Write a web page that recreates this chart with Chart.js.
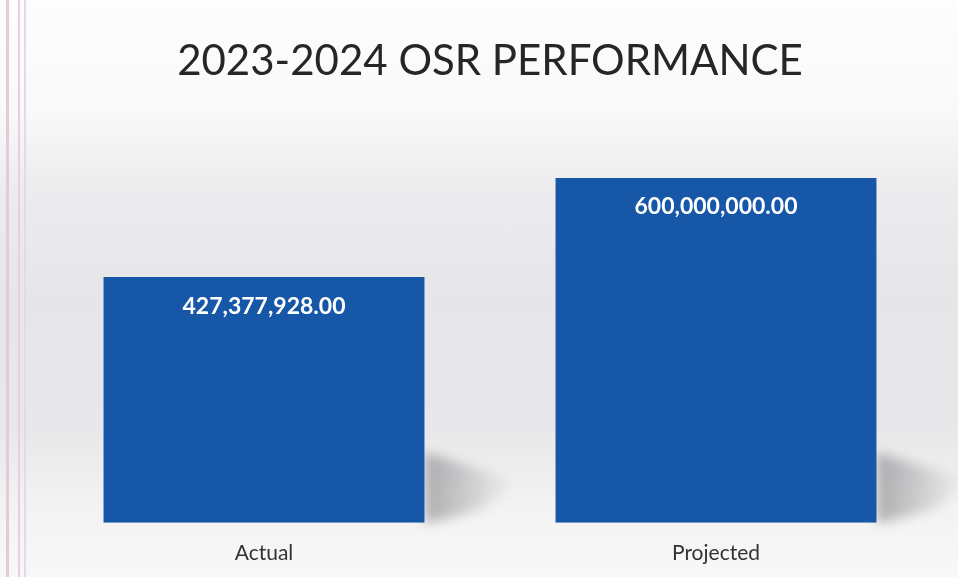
<!DOCTYPE html>
<html>
<head>
<meta charset="utf-8">
<script src="https://cdn.jsdelivr.net/npm/chart.js@4/dist/chart.umd.min.js"></script>
<style>
  html, body { margin: 0; padding: 0; }
  body {
    width: 958px; height: 577px; overflow: hidden; position: relative;
    background: linear-gradient(to bottom, #fdfdfe 0px, #f9f9fa 110px, #ececee 190px, #e6e6e8 300px, #e8e8ea 430px, #f3f3f4 510px, #f8f8f9 577px);
  }
  #edge {
    position: absolute; left: 0; top: 0; width: 30px; height: 577px;
    background:
      linear-gradient(to right, transparent 6px, #e3cbdc 6px, #e3cbdc 9px, transparent 9px,
        transparent 18px, #e6d0e0 18px, #e6d0e0 20px, transparent 20px,
        transparent 24px, #ead6e4 24px, #ead6e4 26px, transparent 26px);
  }
  canvas { position: absolute; left: 0; top: 0; }
</style>
</head>
<body>
<div id="edge"></div>
<canvas id="chart" width="958" height="577"></canvas>
<script>
(function () {
  var categories = ['Actual', 'Projected'];
  var osrValues = [427377928.00, 600000000.00];
  var chartTitle = '2023-2024 OSR PERFORMANCE';

  function fmt(v) {
    return v.toLocaleString('en-US', { minimumFractionDigits: 2, maximumFractionDigits: 2 });
  }

  // soft shadow to the right of each bar foot, then value labels inside the bars
  var barDeco = {
    id: 'barDeco',
    beforeDatasetsDraw: function (chart) {
      var ctx = chart.ctx;
      chart.getDatasetMeta(0).data.forEach(function (bar) {
        var right = bar.x + bar.width / 2;
        var base = bar.base;
        var g = ctx.createLinearGradient(right, 0, right + 90, 0);
        g.addColorStop(0, 'rgba(90,90,95,0.45)');
        g.addColorStop(1, 'rgba(90,90,95,0)');
        ctx.save();
        ctx.fillStyle = g;
        ctx.beginPath();
        ctx.moveTo(right, base - 70);
        ctx.quadraticCurveTo(right + 40, base - 60, right + 90, base - 40);
        ctx.lineTo(right + 60, base - 15);
        ctx.quadraticCurveTo(right + 20, base - 2, right, base);
        ctx.closePath();
        ctx.filter = 'blur(6px)';
        ctx.fill();
        ctx.restore();
      });
    },
    afterDatasetsDraw: function (chart) {
      var ctx = chart.ctx;
      var meta = chart.getDatasetMeta(0);
      ctx.save();
      ctx.fillStyle = '#ffffff';
      ctx.font = 'bold 23px Lato, "Open Sans", sans-serif';
      ctx.textAlign = 'center';
      ctx.textBaseline = 'middle';
      meta.data.forEach(function (bar, i) {
        ctx.fillText(fmt(osrValues[i]), bar.x, bar.y + 29);
      });
      ctx.restore();
    }
  };

  new Chart(document.getElementById('chart').getContext('2d'), {
    type: 'bar',
    data: {
      labels: categories,
      datasets: [{
        data: osrValues,
        backgroundColor: '#1657a8',
        borderWidth: 0,
        barPercentage: 0.71,
        categoryPercentage: 1.0
      }]
    },
    options: {
      responsive: false,
      animation: false,
      devicePixelRatio: 1,
      layout: { padding: { left: 38, right: 16, top: 0, bottom: -7 } },
      plugins: {
        legend: { display: false },
        tooltip: { enabled: false },
        title: {
          display: true,
          text: chartTitle,
          color: '#262626',
          font: { family: 'Lato, "Open Sans", sans-serif', size: 42, weight: 'normal' },
          padding: { top: 36, bottom: 34 }
        }
      },
      scales: {
        x: {
          grid: { display: false, drawTicks: false },
          border: { display: false },
          ticks: {
            color: '#333333',
            padding: 18,
            font: { family: 'Lato, "Open Sans", sans-serif', size: 21 }
          }
        },
        y: {
          display: false,
          min: 0,
          max: 700000000
        }
      }
    },
    plugins: [barDeco]
  });
})();
</script>
</body>
</html>
